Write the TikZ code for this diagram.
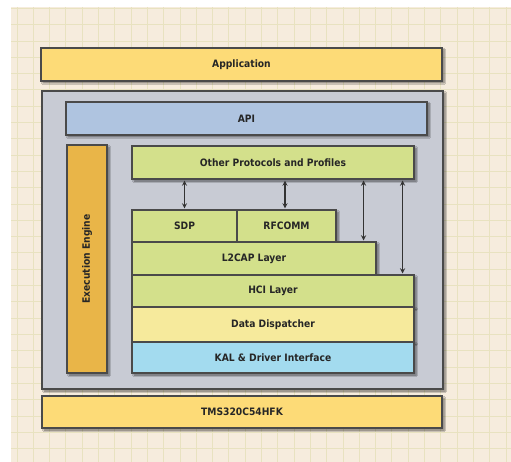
\documentclass[tikz,border=0pt]{standalone}
\usepackage{fontspec}
\setsansfont{DejaVu Sans Condensed}
\usetikzlibrary{shadows.blur}
\definecolor{paper}{HTML}{F6ECDD}
\definecolor{gridline}{HTML}{E8E2C0}
\definecolor{appyellow}{HTML}{FDDB77}
\definecolor{stackgray}{HTML}{C8CBD4}
\definecolor{apiblue}{HTML}{AFC4E0}
\definecolor{engineorange}{HTML}{E9B548}
\definecolor{protogreen}{HTML}{D3E08B}
\definecolor{dispyellow}{HTML}{F6EA9C}
\definecolor{kalblue}{HTML}{A3DBEF}
\definecolor{edge}{HTML}{4A4A4A}
\begin{document}
\begin{tikzpicture}[x=1pt,y=-1pt,
  layer/.style={draw=edge, line width=1.1pt, inner sep=0pt, font=\sffamily\bfseries\fontsize{10.2}{12}\selectfont, text=black!85},
  shade/.style={blur shadow={shadow xshift=2pt, shadow yshift=-2pt, shadow blur steps=6, shadow opacity=55}},
  link/.style={<->, >=stealth, line width=1.3pt, draw=black!80, shorten <=1pt, shorten >=1pt}]
\useasboundingbox (0,0) rectangle (511,462);
\fill[white] (0,0) rectangle (511,462);
\fill[paper] (11,7) rectangle (511,462);
\foreach \gx in {17,33.3,...,510} \draw[gridline, line width=1pt] (\gx,7) -- (\gx,462);
\foreach \gy in {8.5,24.8,...,462} \draw[gridline, line width=1pt] (11,\gy) -- (511,\gy);
\node[layer, shade, fill=appyellow, minimum width=401pt, minimum height=33pt] (app) at (241.5,64.5) {Application};
\node[layer, shade, fill=stackgray, minimum width=401pt, minimum height=298pt] (stack) at (242.5,240) {};
\node[layer, shade, fill=apiblue, minimum width=361pt, minimum height=33pt] (api) at (246.5,118.5) {API};
\node[layer, shade, fill=engineorange, rotate=90, minimum width=228pt, minimum height=40pt] (engine) at (87,259) {Execution Engine};
\node[layer, shade, fill=protogreen, minimum width=282pt, minimum height=33pt] (other) at (273,162.5) {Other Protocols and Profiles};
\node[layer, shade, fill=protogreen, minimum width=105pt, minimum height=32pt] (sdp) at (184.5,226) {SDP};
\node[layer, shade, fill=protogreen, minimum width=99pt, minimum height=32pt] (rfcomm) at (286.5,226) {RFCOMM};
\node[layer, shade, fill=protogreen, minimum width=244pt, minimum height=33pt] (l2cap) at (254,258.5) {L2CAP Layer};
\node[layer, shade, fill=protogreen, minimum width=282pt, minimum height=32pt] (hci) at (273,291) {HCI Layer};
\node[layer, shade, fill=dispyellow, minimum width=282pt, minimum height=35pt] (disp) at (273,324.5) {Data Dispatcher};
\node[layer, shade, fill=kalblue, minimum width=282pt, minimum height=31pt] (kal) at (273,357.5) {KAL \& Driver Interface};
\node[layer, shade, fill=appyellow, minimum width=400pt, minimum height=32pt] (tms) at (242,412) {TMS320C54HFK};
\draw[link] (sdp.north |- other.south) -- (sdp.north);
\draw[link] ([xshift=-1.5pt]rfcomm.north |- other.south) -- ([xshift=-1.5pt]rfcomm.north);
\draw[link] ([xshift=-13pt]l2cap.north east |- other.south) -- ([xshift=-13pt]l2cap.north east);
\draw[link] ([xshift=-12pt]hci.north east |- other.south) -- ([xshift=-12pt]hci.north east);
\end{tikzpicture}
\end{document}
